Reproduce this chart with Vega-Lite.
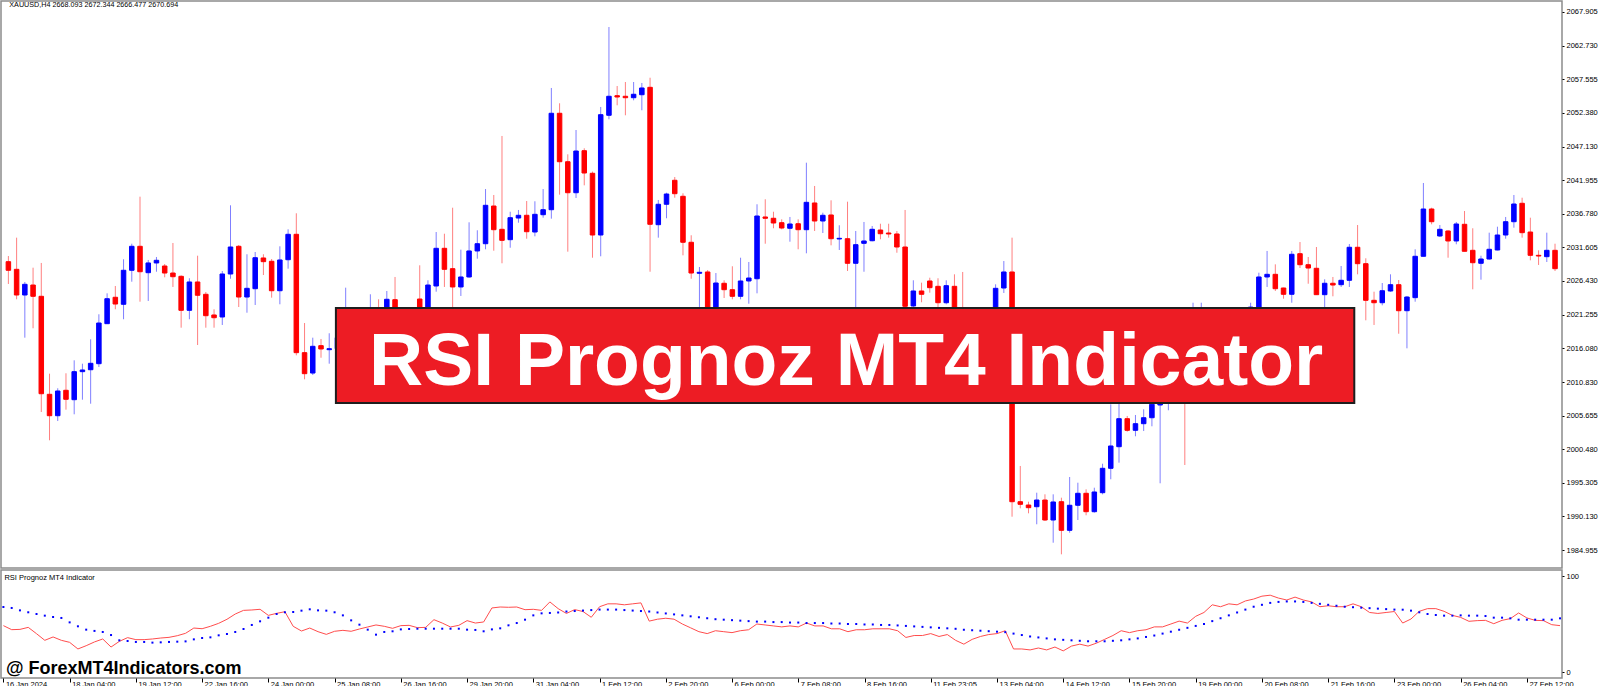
{
"$schema": "https://vega.github.io/schema/vega-lite/v6.json",
"padding": 0,
"background": "#ffffff",
"spacing": 0,
"config": {
  "view": {"stroke": "#8c8c8c", "strokeWidth": 1.5},
  "axis": {"labelFont": "Liberation Sans", "labelFontSize": 7.5, "labelColor": "#000000", "tickColor": "#000000", "grid": false, "domain": false, "title": null, "labelOverlap": false, "labelFlush": false}
},
"datasets": {"bars": [
{"i":0,"o":2029.41,"h":2030.28,"l":2025.97,"c":2028.08,"r":48.3,"s":67.7},
{"i":1,"o":2028.23,"h":2033.11,"l":2023.61,"c":2024.27,"r":44.1,"s":66.7},
{"i":2,"o":2024.27,"h":2026.28,"l":2017.69,"c":2025.92,"r":44.4,"s":64.2},
{"i":3,"o":2025.81,"h":2028.48,"l":2019.14,"c":2024.07,"r":46.5,"s":62.2},
{"i":4,"o":2024.07,"h":2029.21,"l":2006.23,"c":2009.05,"r":39.9,"s":60.4},
{"i":5,"o":2008.96,"h":2012.14,"l":2001.87,"c":2005.66,"r":33.0,"s":58.7},
{"i":6,"o":2005.66,"h":2009.89,"l":2004.84,"c":2009.47,"r":36.5,"s":57.3},
{"i":7,"o":2009.58,"h":2012.20,"l":2006.59,"c":2008.19,"r":33.0,"s":56.3},
{"i":8,"o":2008.13,"h":2014.20,"l":2005.88,"c":2012.45,"r":30.9,"s":51.7},
{"i":9,"o":2012.45,"h":2013.68,"l":2008.13,"c":2012.71,"r":24.0,"s":47.6},
{"i":10,"o":2012.75,"h":2017.44,"l":2007.51,"c":2013.74,"r":27.4,"s":44.1},
{"i":11,"o":2013.68,"h":2021.30,"l":2013.17,"c":2019.95,"r":31.3,"s":42.8},
{"i":12,"o":2019.85,"h":2024.53,"l":2019.80,"c":2023.70,"r":34.4,"s":41.7},
{"i":13,"o":2023.92,"h":2025.66,"l":2022.07,"c":2022.88,"r":26.0,"s":38.5},
{"i":14,"o":2022.84,"h":2029.78,"l":2020.53,"c":2028.08,"r":31.9,"s":33.0},
{"i":15,"o":2028.08,"h":2032.18,"l":2026.32,"c":2031.78,"r":35.8,"s":32.3},
{"i":16,"o":2031.78,"h":2039.43,"l":2023.24,"c":2027.86,"r":33.7,"s":31.3},
{"i":17,"o":2027.71,"h":2029.67,"l":2023.35,"c":2029.21,"r":33.7,"s":31.3},
{"i":18,"o":2029.21,"h":2030.13,"l":2027.86,"c":2029.62,"r":34.4,"s":30.6},
{"i":19,"o":2028.74,"h":2029.05,"l":2027.00,"c":2027.66,"r":35.4,"s":30.9},
{"i":20,"o":2027.66,"h":2032.29,"l":2025.51,"c":2027.09,"r":36.1,"s":31.3},
{"i":21,"o":2027.15,"h":2027.31,"l":2019.23,"c":2021.91,"r":37.8,"s":31.6},
{"i":22,"o":2021.91,"h":2026.85,"l":2020.53,"c":2026.28,"r":40.3,"s":31.9},
{"i":23,"o":2026.28,"h":2030.33,"l":2016.56,"c":2024.23,"r":45.8,"s":34.0},
{"i":24,"o":2024.38,"h":2024.73,"l":2019.23,"c":2021.08,"r":45.1,"s":35.4},
{"i":25,"o":2021.19,"h":2022.07,"l":2019.23,"c":2020.77,"r":47.6,"s":36.1},
{"i":26,"o":2020.88,"h":2027.97,"l":2019.65,"c":2027.51,"r":50.7,"s":38.2},
{"i":27,"o":2027.51,"h":2038.10,"l":2026.78,"c":2031.67,"r":54.9,"s":39.6},
{"i":28,"o":2031.78,"h":2031.98,"l":2022.42,"c":2023.96,"r":60.4,"s":41.7},
{"i":29,"o":2023.96,"h":2030.55,"l":2021.54,"c":2025.30,"r":64.2,"s":44.8},
{"i":30,"o":2025.24,"h":2030.90,"l":2022.73,"c":2030.02,"r":64.6,"s":49.0},
{"i":31,"o":2029.98,"h":2030.55,"l":2027.35,"c":2029.41,"r":65.3,"s":52.8},
{"i":32,"o":2029.47,"h":2029.82,"l":2023.86,"c":2024.93,"r":59.0,"s":56.6},
{"i":33,"o":2024.93,"h":2031.78,"l":2022.84,"c":2029.67,"r":61.1,"s":60.4},
{"i":34,"o":2029.71,"h":2034.40,"l":2028.33,"c":2033.63,"r":62.8,"s":62.2},
{"i":35,"o":2033.63,"h":2036.87,"l":2014.97,"c":2015.38,"r":47.6,"s":62.5},
{"i":36,"o":2015.38,"h":2019.95,"l":2011.27,"c":2012.14,"r":42.7,"s":63.9},
{"i":37,"o":2012.24,"h":2017.69,"l":2011.94,"c":2016.36,"r":45.8,"s":65.3},
{"i":38,"o":2016.46,"h":2017.49,"l":2014.60,"c":2015.95,"r":42.0,"s":64.2},
{"i":39,"o":2015.84,"h":2018.37,"l":2013.68,"c":2015.99,"r":39.2,"s":63.9},
{"i":40,"o":2015.99,"h":2018.72,"l":2015.33,"c":2017.69,"r":42.4,"s":62.2},
{"i":41,"o":2016.41,"h":2025.40,"l":2014.87,"c":2020.57,"r":43.4,"s":59.0},
{"i":42,"o":2020.57,"h":2021.50,"l":2016.50,"c":2018.00,"r":42.4,"s":53.8},
{"i":43,"o":2018.00,"h":2022.00,"l":2017.00,"c":2020.50,"r":44.8,"s":49.3},
{"i":44,"o":2019.50,"h":2024.38,"l":2018.50,"c":2021.80,"r":46.9,"s":44.1},
{"i":45,"o":2021.80,"h":2023.61,"l":2018.00,"c":2019.00,"r":49.0,"s":38.9},
{"i":46,"o":2019.50,"h":2024.89,"l":2018.50,"c":2023.61,"r":47.6,"s":41.7},
{"i":47,"o":2023.55,"h":2027.05,"l":2017.00,"c":2018.50,"r":45.5,"s":42.4},
{"i":48,"o":2018.50,"h":2021.80,"l":2017.50,"c":2020.50,"r":48.3,"s":44.4},
{"i":49,"o":2020.50,"h":2022.20,"l":2019.00,"c":2022.00,"r":48.6,"s":44.8},
{"i":50,"o":2023.65,"h":2028.85,"l":2018.80,"c":2019.80,"r":46.2,"s":45.1},
{"i":51,"o":2019.90,"h":2026.54,"l":2019.00,"c":2025.81,"r":46.5,"s":45.1},
{"i":52,"o":2025.66,"h":2033.98,"l":2024.78,"c":2031.47,"r":54.5,"s":45.1},
{"i":53,"o":2031.47,"h":2033.72,"l":2025.51,"c":2028.23,"r":51.0,"s":45.1},
{"i":54,"o":2028.33,"h":2037.73,"l":2022.31,"c":2025.51,"r":46.9,"s":45.1},
{"i":55,"o":2025.51,"h":2031.26,"l":2024.12,"c":2027.05,"r":48.6,"s":45.1},
{"i":56,"o":2027.05,"h":2035.48,"l":2026.94,"c":2031.06,"r":53.5,"s":44.1},
{"i":57,"o":2031.06,"h":2034.25,"l":2029.87,"c":2032.18,"r":51.0,"s":43.8},
{"i":58,"o":2032.18,"h":2040.61,"l":2031.32,"c":2038.10,"r":52.1,"s":42.4},
{"i":59,"o":2037.99,"h":2039.69,"l":2031.10,"c":2034.34,"r":66.7,"s":44.4},
{"i":60,"o":2034.40,"h":2048.79,"l":2029.16,"c":2032.70,"r":67.7,"s":45.5},
{"i":61,"o":2032.80,"h":2037.11,"l":2031.56,"c":2036.19,"r":67.4,"s":48.6},
{"i":62,"o":2036.14,"h":2037.38,"l":2035.42,"c":2036.56,"r":67.7,"s":51.0},
{"i":63,"o":2036.56,"h":2038.76,"l":2032.95,"c":2034.03,"r":64.9,"s":54.5},
{"i":64,"o":2033.98,"h":2038.72,"l":2033.32,"c":2036.71,"r":65.3,"s":59.0},
{"i":65,"o":2036.65,"h":2040.61,"l":2036.19,"c":2037.42,"r":64.2,"s":61.1},
{"i":66,"o":2037.42,"h":2056.19,"l":2036.04,"c":2052.29,"r":73,"s":61.5},
{"i":67,"o":2052.29,"h":2053.83,"l":2039.74,"c":2044.82,"r":66,"s":62},
{"i":68,"o":2044.82,"h":2045.96,"l":2030.95,"c":2040.04,"r":61,"s":63},
{"i":69,"o":2040.04,"h":2049.71,"l":2039.23,"c":2046.47,"r":65,"s":63.5},
{"i":70,"o":2046.52,"h":2046.89,"l":2041.18,"c":2043.08,"r":63,"s":64},
{"i":71,"o":2043.04,"h":2043.30,"l":2030.02,"c":2033.52,"r":57,"s":64.5},
{"i":72,"o":2033.52,"h":2053.26,"l":2030.24,"c":2052.07,"r":68,"s":65},
{"i":73,"o":2051.98,"h":2065.59,"l":2051.36,"c":2054.91,"r":71,"s":65},
{"i":74,"o":2055.00,"h":2056.49,"l":2053.52,"c":2054.80,"r":71,"s":65},
{"i":75,"o":2054.91,"h":2057.11,"l":2051.98,"c":2054.69,"r":70,"s":64.5},
{"i":76,"o":2054.69,"h":2057.11,"l":2054.29,"c":2055.22,"r":71,"s":64},
{"i":77,"o":2055.15,"h":2056.96,"l":2052.75,"c":2056.19,"r":72,"s":63.5},
{"i":78,"o":2056.29,"h":2057.77,"l":2027.86,"c":2035.17,"r":53,"s":63},
{"i":79,"o":2035.11,"h":2038.92,"l":2033.11,"c":2038.26,"r":55,"s":62},
{"i":80,"o":2038.26,"h":2040.04,"l":2036.10,"c":2039.84,"r":56,"s":61},
{"i":81,"o":2041.96,"h":2042.46,"l":2039.27,"c":2039.89,"r":55,"s":60},
{"i":82,"o":2039.49,"h":2039.95,"l":2030.39,"c":2032.40,"r":50,"s":59},
{"i":83,"o":2032.40,"h":2033.48,"l":2026.78,"c":2027.66,"r":46,"s":58},
{"i":84,"o":2027.62,"h":2028.59,"l":2022.31,"c":2027.77,"r":42,"s":57},
{"i":85,"o":2027.82,"h":2028.12,"l":2019.50,"c":2020.57,"r":40,"s":56},
{"i":86,"o":2020.57,"h":2027.66,"l":2019.80,"c":2026.12,"r":43,"s":55},
{"i":87,"o":2026.08,"h":2026.54,"l":2023.81,"c":2025.09,"r":42,"s":54.5},
{"i":88,"o":2025.09,"h":2028.70,"l":2023.61,"c":2024.07,"r":41,"s":54},
{"i":89,"o":2024.07,"h":2030.02,"l":2023.61,"c":2026.43,"r":43,"s":53.5},
{"i":90,"o":2026.43,"h":2029.36,"l":2022.93,"c":2026.89,"r":44,"s":53},
{"i":91,"o":2026.78,"h":2038.26,"l":2024.53,"c":2036.45,"r":50,"s":52.5},
{"i":92,"o":2036.30,"h":2039.03,"l":2032.18,"c":2036.10,"r":49,"s":52.5},
{"i":93,"o":2036.10,"h":2037.11,"l":2034.56,"c":2035.37,"r":48,"s":52},
{"i":94,"o":2035.42,"h":2035.94,"l":2034.40,"c":2034.60,"r":47,"s":52},
{"i":95,"o":2034.56,"h":2036.30,"l":2032.49,"c":2035.22,"r":48,"s":51.5},
{"i":96,"o":2035.26,"h":2035.94,"l":2031.32,"c":2034.34,"r":47,"s":51.5},
{"i":97,"o":2034.34,"h":2044.67,"l":2030.70,"c":2038.56,"r":51,"s":51},
{"i":98,"o":2038.46,"h":2041.08,"l":2034.14,"c":2035.68,"r":48,"s":51},
{"i":99,"o":2035.68,"h":2036.96,"l":2033.83,"c":2036.56,"r":48,"s":51},
{"i":100,"o":2036.61,"h":2038.87,"l":2031.93,"c":2032.95,"r":45,"s":50.5},
{"i":101,"o":2032.91,"h":2035.02,"l":2031.21,"c":2033.01,"r":45,"s":50.5},
{"i":102,"o":2032.95,"h":2038.66,"l":2027.97,"c":2029.16,"r":42,"s":50},
{"i":103,"o":2029.16,"h":2034.14,"l":2019.00,"c":2032.03,"r":44,"s":50},
{"i":104,"o":2032.24,"h":2035.53,"l":2027.86,"c":2032.60,"r":44,"s":49.5},
{"i":105,"o":2032.64,"h":2034.91,"l":2032.55,"c":2034.40,"r":45,"s":49.5},
{"i":106,"o":2034.29,"h":2035.26,"l":2032.86,"c":2033.72,"r":45,"s":49},
{"i":107,"o":2033.83,"h":2035.26,"l":2033.11,"c":2033.68,"r":45,"s":49},
{"i":108,"o":2033.68,"h":2034.14,"l":2030.79,"c":2031.67,"r":43,"s":48.5},
{"i":109,"o":2031.67,"h":2037.38,"l":2021.50,"c":2022.53,"r":36,"s":48},
{"i":110,"o":2022.58,"h":2026.54,"l":2021.00,"c":2024.89,"r":38,"s":47.5},
{"i":111,"o":2024.89,"h":2026.17,"l":2023.15,"c":2024.38,"r":38,"s":47},
{"i":112,"o":2026.43,"h":2026.94,"l":2024.63,"c":2025.40,"r":40,"s":46.5},
{"i":113,"o":2025.61,"h":2026.85,"l":2022.30,"c":2023.08,"r":37,"s":46},
{"i":114,"o":2023.08,"h":2026.54,"l":2022.84,"c":2025.71,"r":39,"s":45.5},
{"i":115,"o":2025.61,"h":2027.46,"l":2019.50,"c":2020.50,"r":33,"s":45},
{"i":116,"o":2020.50,"h":2027.82,"l":2017.00,"c":2018.00,"r":29,"s":44},
{"i":117,"o":2018.00,"h":2020.80,"l":2016.50,"c":2019.50,"r":34,"s":43.5},
{"i":118,"o":2019.50,"h":2020.50,"l":2017.00,"c":2018.50,"r":37,"s":43},
{"i":119,"o":2018.50,"h":2021.80,"l":2017.80,"c":2021.00,"r":39,"s":42.5},
{"i":120,"o":2021.00,"h":2025.92,"l":2020.50,"c":2025.30,"r":40,"s":42},
{"i":121,"o":2025.35,"h":2029.51,"l":2024.58,"c":2027.82,"r":43,"s":41.5},
{"i":122,"o":2027.82,"h":2033.11,"l":1990.09,"c":1992.40,"r":24,"s":40},
{"i":123,"o":1992.40,"h":1997.91,"l":1991.38,"c":1992.00,"r":24,"s":38.5},
{"i":124,"o":1991.89,"h":1992.40,"l":1990.61,"c":1991.48,"r":23,"s":37},
{"i":125,"o":1991.63,"h":1993.79,"l":1988.92,"c":1992.66,"r":25,"s":36},
{"i":126,"o":1992.66,"h":1993.54,"l":1989.43,"c":1989.58,"r":23,"s":35},
{"i":127,"o":1989.58,"h":1993.54,"l":1986.08,"c":1992.36,"r":26,"s":34},
{"i":128,"o":1992.40,"h":1993.02,"l":1984.29,"c":1987.99,"r":22,"s":33.5},
{"i":129,"o":1987.99,"h":1996.21,"l":1987.62,"c":1991.85,"r":27,"s":33},
{"i":130,"o":1991.85,"h":1995.33,"l":1989.58,"c":1993.70,"r":29,"s":32.5},
{"i":131,"o":1993.70,"h":1994.31,"l":1990.31,"c":1990.86,"r":27,"s":32},
{"i":132,"o":1990.86,"h":1994.56,"l":1990.71,"c":1993.90,"r":30,"s":32},
{"i":133,"o":1993.79,"h":1998.26,"l":1993.54,"c":1997.55,"r":34,"s":32},
{"i":134,"o":1997.55,"h":2007.42,"l":1995.86,"c":2000.99,"r":38,"s":32.5},
{"i":135,"o":2000.88,"h":2007.67,"l":1998.42,"c":2005.20,"r":43,"s":33},
{"i":136,"o":2005.20,"h":2005.62,"l":2003.20,"c":2003.41,"r":41,"s":34},
{"i":137,"o":2003.41,"h":2005.77,"l":2002.49,"c":2004.43,"r":43,"s":35},
{"i":138,"o":2004.43,"h":2006.65,"l":2003.30,"c":2005.35,"r":44,"s":36.5},
{"i":139,"o":2005.35,"h":2008.96,"l":2004.03,"c":2007.42,"r":47,"s":38},
{"i":140,"o":2007.31,"h":2009.16,"l":1995.24,"c":2007.62,"r":47,"s":40},
{"i":141,"o":2007.62,"h":2011.00,"l":2006.50,"c":2010.00,"r":50,"s":42},
{"i":142,"o":2010.00,"h":2013.50,"l":2009.00,"c":2012.50,"r":53,"s":44},
{"i":143,"o":2012.50,"h":2013.00,"l":1998.06,"c":2011.00,"r":51,"s":46},
{"i":144,"o":2011.00,"h":2023.08,"l":2010.00,"c":2017.50,"r":58,"s":48},
{"i":145,"o":2017.50,"h":2023.08,"l":2016.50,"c":2020.50,"r":62,"s":50},
{"i":146,"o":2020.50,"h":2021.50,"l":2017.00,"c":2018.00,"r":70,"s":53},
{"i":147,"o":2018.00,"h":2021.20,"l":2017.00,"c":2020.50,"r":68,"s":56},
{"i":148,"o":2020.50,"h":2021.50,"l":2018.00,"c":2019.00,"r":71,"s":59},
{"i":149,"o":2019.00,"h":2022.00,"l":2018.20,"c":2021.20,"r":70,"s":62},
{"i":150,"o":2021.20,"h":2022.10,"l":2020.00,"c":2021.80,"r":74,"s":65},
{"i":151,"o":2021.80,"h":2023.08,"l":2020.60,"c":2022.40,"r":76,"s":68},
{"i":152,"o":2022.40,"h":2027.71,"l":2021.50,"c":2027.05,"r":79,"s":70},
{"i":153,"o":2027.05,"h":2031.06,"l":2025.51,"c":2027.46,"r":80,"s":72},
{"i":154,"o":2027.46,"h":2029.00,"l":2024.89,"c":2025.24,"r":77,"s":73},
{"i":155,"o":2025.35,"h":2025.40,"l":2023.70,"c":2024.38,"r":75,"s":73.5},
{"i":156,"o":2024.38,"h":2031.06,"l":2023.08,"c":2030.55,"r":78,"s":73.5},
{"i":157,"o":2030.64,"h":2032.44,"l":2028.43,"c":2028.94,"r":75,"s":73},
{"i":158,"o":2028.94,"h":2030.13,"l":2026.01,"c":2028.43,"r":73,"s":72},
{"i":159,"o":2028.39,"h":2031.67,"l":2024.27,"c":2024.32,"r":68,"s":71},
{"i":160,"o":2024.32,"h":2026.69,"l":2022.31,"c":2026.08,"r":69,"s":70},
{"i":161,"o":2026.08,"h":2027.05,"l":2024.07,"c":2025.81,"r":68,"s":69},
{"i":162,"o":2025.86,"h":2028.74,"l":2025.51,"c":2026.54,"r":68,"s":68},
{"i":163,"o":2026.54,"h":2032.13,"l":2025.51,"c":2031.63,"r":71,"s":67.5},
{"i":164,"o":2031.63,"h":2035.06,"l":2027.46,"c":2029.10,"r":68,"s":67},
{"i":165,"o":2029.10,"h":2029.93,"l":2020.37,"c":2023.45,"r":62,"s":66.5},
{"i":166,"o":2023.45,"h":2024.78,"l":2019.65,"c":2023.08,"r":61,"s":66},
{"i":167,"o":2023.08,"h":2026.12,"l":2022.68,"c":2024.93,"r":62,"s":65.5},
{"i":168,"o":2024.89,"h":2027.46,"l":2024.78,"c":2025.86,"r":63,"s":65},
{"i":169,"o":2025.86,"h":2026.58,"l":2018.30,"c":2021.85,"r":51.0,"s":64.9},
{"i":170,"o":2021.85,"h":2024.12,"l":2016.05,"c":2023.96,"r":55.2,"s":63.9},
{"i":171,"o":2023.86,"h":2031.32,"l":2023.24,"c":2030.24,"r":63.2,"s":62.2},
{"i":172,"o":2030.24,"h":2041.54,"l":2030.24,"c":2037.53,"r":66.0,"s":60.4},
{"i":173,"o":2037.53,"h":2037.73,"l":2035.17,"c":2035.57,"r":66.0,"s":59.4},
{"i":174,"o":2033.37,"h":2035.06,"l":2033.21,"c":2034.40,"r":63.2,"s":58.7},
{"i":175,"o":2034.14,"h":2034.25,"l":2030.02,"c":2032.60,"r":59.0,"s":58.7},
{"i":176,"o":2032.60,"h":2035.53,"l":2032.09,"c":2035.22,"r":56.9,"s":59.0},
{"i":177,"o":2035.17,"h":2037.22,"l":2031.01,"c":2031.01,"r":52.8,"s":58.7},
{"i":178,"o":2031.16,"h":2034.56,"l":2025.15,"c":2029.25,"r":53.5,"s":58.7},
{"i":179,"o":2029.16,"h":2030.33,"l":2026.63,"c":2029.82,"r":53.8,"s":58.3},
{"i":180,"o":2029.82,"h":2033.88,"l":2029.71,"c":2031.32,"r":50.3,"s":56.6},
{"i":181,"o":2031.21,"h":2034.80,"l":2031.16,"c":2033.52,"r":53.8,"s":56.6},
{"i":182,"o":2033.52,"h":2036.30,"l":2032.95,"c":2035.57,"r":55.6,"s":55.9},
{"i":183,"o":2035.57,"h":2039.69,"l":2034.65,"c":2038.30,"r":61.5,"s":54.5},
{"i":184,"o":2038.41,"h":2039.27,"l":2033.11,"c":2033.88,"r":56.3,"s":54.5},
{"i":185,"o":2033.98,"h":2036.19,"l":2029.62,"c":2030.39,"r":53.8,"s":54.5},
{"i":186,"o":2030.39,"h":2031.16,"l":2028.90,"c":2030.28,"r":53.5,"s":54.5},
{"i":187,"o":2030.18,"h":2033.88,"l":2029.36,"c":2031.16,"r":49.3,"s":54.5},
{"i":188,"o":2031.16,"h":2032.18,"l":2027.97,"c":2028.33,"r":48.3,"s":55.9}
]},
"vconcat": [
{
  "width": 1561,
  "height": 567,
  "layer": [
    {
      "data": {"name": "bars"},
      "mark": {"type": "rule", "strokeWidth": 1, "opacity": 0.5, "clip": true},
      "encoding": {
        "x": {"field": "i", "type": "quantitative", "scale": {"domain": [-0.29, 188.24], "nice": false, "zero": false}, "axis": null},
        "y": {"field": "l", "type": "quantitative", "scale": {"domain": [1982.18, 2069.60], "nice": false, "zero": false},
              "axis": {"orient": "right", "values": [2067.905, 2062.730, 2057.555, 2052.380, 2047.130, 2041.955, 2036.780, 2031.605, 2026.430, 2021.255, 2016.080, 2010.830, 2005.655, 2000.480, 1995.305, 1990.130, 1984.955],
                       "tickCount": 40, "format": ".3f", "tickSize": 2, "labelPadding": 2, "labelAlign": "left", "labelBaseline": "middle", "labelFlush": false, "labelOverlap": false, "labelBound": false}},
        "y2": {"field": "h"},
        "color": {"condition": {"test": "datum.c >= datum.o", "value": "#0000ff"}, "value": "#ff0000"}
      }
    },
    {
      "data": {"name": "bars"},
      "mark": {"type": "bar", "width": 4.5, "strokeWidth": 1, "clip": true},
      "encoding": {
        "x": {"field": "i", "type": "quantitative"},
        "y": {"field": "o", "type": "quantitative",
              "axis": {"orient": "right", "values": [2067.905, 2062.730, 2057.555, 2052.380, 2047.130, 2041.955, 2036.780, 2031.605, 2026.430, 2021.255, 2016.080, 2010.830, 2005.655, 2000.480, 1995.305, 1990.130, 1984.955],
                       "tickCount": 40, "format": ".3f", "tickSize": 2, "labelPadding": 2, "labelAlign": "left", "labelBaseline": "middle", "labelFlush": false, "labelOverlap": false, "labelBound": false}},
        "y2": {"field": "c"},
        "fill": {"condition": {"test": "datum.c >= datum.o", "value": "#0000ff"}, "value": "#ff0000"},
        "stroke": {"condition": {"test": "datum.c >= datum.o", "value": "#0000ff"}, "value": "#ff0000"}
      }
    },
    {
      "data": {"values": [{}]},
      "mark": {"type": "rect", "fill": "#ed1c24", "stroke": "#1e1e1e", "strokeWidth": 2},
      "encoding": {
        "x": {"datum": 39.81}, "x2": {"datum": 163.6},
        "y": {"datum": 2022.27}, "y2": {"datum": 2007.62}
      }
    },
    {
      "data": {"values": [{}]},
      "mark": {"type": "text", "align": "center", "baseline": "alphabetic", "font": "Liberation Sans", "fontSize": 75, "fontWeight": "bold", "color": "#ffffff"},
      "encoding": {
        "x": {"datum": 101.83},
        "y": {"datum": 2010.47},
        "text": {"value": "RSI Prognoz MT4 Indicator"}
      }
    },
    {
      "data": {"values": [{}]},
      "mark": {"type": "text", "align": "left", "baseline": "middle", "font": "Liberation Sans", "fontSize": 7.2, "color": "#000000"},
      "encoding": {
        "x": {"datum": 0.11},
        "y": {"datum": 2068.91},
        "text": {"value": "XAUUSD,H4  2668.093 2672.344 2666.477 2670.694"}
      }
    }
  ]
},
{
  "width": 1561,
  "height": 108,
  "layer": [
    {
      "data": {"name": "bars"},
      "mark": {"type": "line", "color": "#ff4d4d", "strokeWidth": 1, "clip": true},
      "encoding": {
        "x": {"field": "i", "type": "quantitative", "scale": {"domain": [-0.29, 188.24], "nice": false, "zero": false},
              "axis": {"orient": "bottom", "values": [0,8,16,24,32,40,48,56,64,72,80,88,96,104,112,120,128,136,144,152,160,168,176,184], "tickCount": 40,
                       "labelExpr": "['16 Jan 2024','18 Jan 04:00','19 Jan 12:00','22 Jan 16:00','24 Jan 00:00','25 Jan 08:00','26 Jan 16:00','29 Jan 20:00','31 Jan 04:00','1 Feb 12:00','2 Feb 20:00','6 Feb 00:00','7 Feb 08:00','8 Feb 16:00','11 Feb 23:05','13 Feb 04:00','14 Feb 12:00','15 Feb 20:00','19 Feb 00:00','20 Feb 08:00','21 Feb 16:00','23 Feb 00:00','26 Feb 04:00','27 Feb 12:00'][round(datum.value/8)]",
                       "tickSize": 4, "labelPadding": -2, "labelAlign": "left", "labelOffset": 2, "labelFlush": false, "labelOverlap": false, "labelBound": false}},
        "y": {"field": "r", "type": "quantitative", "scale": {"domain": [-6.25, 106.25], "nice": false, "zero": false},
              "axis": {"orient": "right", "values": [0, 100], "format": "d", "tickSize": 2, "labelPadding": 2, "labelAlign": "left", "labelBaseline": "middle", "labelFlush": false, "labelOverlap": false}}
      }
    },
    {
      "data": {"name": "bars"},
      "mark": {"type": "square", "size": 4, "filled": true, "color": "#0000ff", "opacity": 1, "clip": true},
      "encoding": {
        "x": {"field": "i", "type": "quantitative"},
        "y": {"field": "s", "type": "quantitative"}
      }
    },
    {
      "data": {"values": [{}]},
      "mark": {"type": "text", "align": "left", "baseline": "middle", "font": "Liberation Sans", "fontSize": 7.5, "color": "#000000"},
      "encoding": {
        "x": {"datum": 0.12},
        "y": {"datum": 98.4},
        "text": {"value": "RSI Prognoz MT4 Indicator"}
      }
    },
    {
      "data": {"values": [{}]},
      "mark": {"type": "text", "align": "left", "baseline": "alphabetic", "font": "Liberation Sans", "fontSize": 18, "fontWeight": "bold", "color": "#000000"},
      "encoding": {
        "x": {"datum": 0.31},
        "y": {"datum": -2.1},
        "text": {"value": "@ ForexMT4Indicators.com"}
      }
    }
  ]
}
]
}
